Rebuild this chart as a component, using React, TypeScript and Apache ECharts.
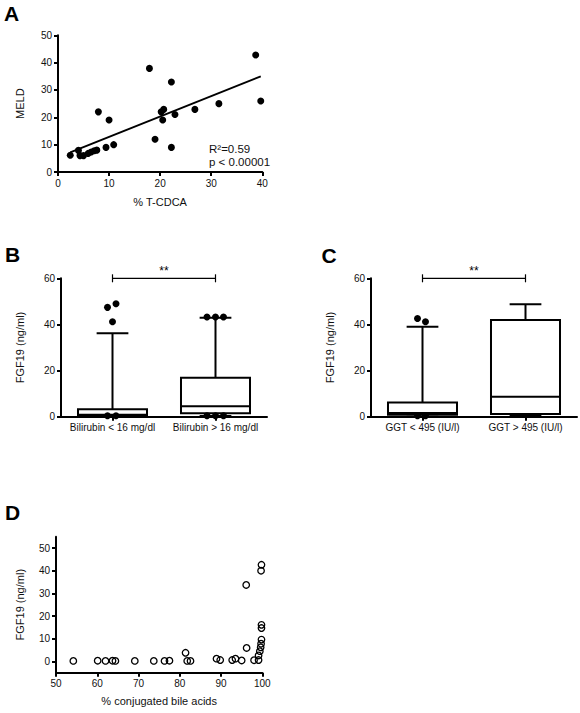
import React, { useEffect, useRef } from "react";
import * as echarts from "echarts";

const FONT = "'Liberation Sans', Arial, Helvetica, sans-serif";
const INK = "#111";

// ---------- Panel A: MELD vs % T-CDCA ----------
const tcdcaPct = [2.4, 4.0, 4.3, 5.0, 5.9, 6.5, 7.1, 7.6, 7.9, 9.4, 10.0, 10.9, 17.9, 19.0, 20.2, 20.7, 20.5, 22.2, 22.2, 22.9, 26.8, 31.5, 38.7, 39.7];
const meldScore = [6.1, 7.9, 6.0, 6.0, 6.8, 7.3, 7.8, 8.0, 22.0, 9.0, 19.0, 10.0, 37.9, 12.0, 22.0, 22.9, 19.0, 32.9, 9.0, 21.0, 22.9, 25.0, 42.8, 26.0];
const fitLineX = [2.4, 39.7];
const fitLineY = [7.2, 35.0];
const fitStats = ["R\u00B2=0.59", "p < 0.00001"];

// ---------- Panel B: FGF19 by bilirubin ----------
const bilirubinCats = ["Bilirubin < 16 mg/dl", "Bilirubin > 16 mg/dl"];
// [min, Q1, median, Q3, max]
const bilirubinBoxLow = [0, 0.5, 0.8, 3.2, 36.2];
const bilirubinBoxHigh = [0.3, 1.5, 4.5, 16.9, 42.9];
const bilirubinDotCat = [0, 0, 0, 0, 0, 1, 1, 1, 1, 1, 1];
const bilirubinDotVal = [47.4, 49.0, 41.2, 0.4, 0.4, 43.2, 43.2, 43.2, 0.4, 0.4, 0.4];
const bilirubinDotNudge = [-5, 3.5, 0, -5, 3.5, -8.5, 0, 8, -8.5, 0, 8];

// ---------- Panel C: FGF19 by GGT ----------
const ggtCats = ["GGT < 495 (IU/l)", "GGT > 495 (IU/l)"];
const ggtBoxLow = [0, 0.8, 1.6, 6.2, 39.0];
const ggtBoxHigh = [0.5, 1.2, 8.7, 41.9, 48.8];
const ggtDotCat = [0, 0, 0, 0];
const ggtDotVal = [42.6, 41.2, 0.4, 0.4];
const ggtDotNudge = [-5, 3, -5, 3];

const sigLabel = "**";

// ---------- Panel D: FGF19 vs % conjugated bile acids ----------
const conjPct = [54.2, 60.1, 62.0, 63.7, 64.4, 69.1, 73.7, 76.3, 77.5, 81.4, 81.8, 82.6, 88.9, 89.8, 92.7, 93.5, 95.0, 96.1, 96.2, 98.0, 99.1, 99.1, 99.4, 99.6, 99.7, 99.8, 99.8, 99.8, 99.7, 99.8];
const fgf19D = [0.2, 0.3, 0.2, 0.3, 0.2, 0.2, 0.2, 0.2, 0.3, 3.8, 0.2, 0.2, 1.2, 0.6, 0.6, 1.2, 0.4, 33.7, 5.9, 0.5, 0.6, 2.6, 4.5, 6.2, 7.8, 9.6, 14.7, 16.1, 40.0, 42.6];
const ticksD = [0, 10, 20, 30, 40, 50];

function axisBase(extra: any = {}) {
  return {
    axisLine: { show: true, onZero: false, lineStyle: { color: "#000", width: 2 } },
    axisTick: { show: true, length: 4, lineStyle: { color: "#000", width: 2 }, ...(extra.axisTick || {}) },
    axisLabel: { color: INK, fontSize: 10, fontFamily: FONT, margin: 6, ...(extra.axisLabel || {}) },
    splitLine: { show: false },
    nameTextStyle: { color: INK, fontSize: 11, fontFamily: FONT },
    nameLocation: "middle",
  };
}

function renderBox(params: any, api: any) {
  const idx = api.value(0);
  const band = api.size([1, 0])[0];
  const w = band * 0.67;
  const cap = w * 0.46;
  const cx = api.coord([idx, 0])[0];
  const y = (i: number) => api.coord([idx, api.value(i)])[1];
  const yMin = y(1), yQ1 = y(2), yMed = y(3), yQ3 = y(4), yMax = y(5);
  const st = { stroke: "#000", lineWidth: 2, fill: "none" };
  return {
    type: "group",
    children: [
      { type: "line", shape: { x1: cx, y1: yQ3, x2: cx, y2: yMax }, style: st },
      { type: "line", shape: { x1: cx - cap / 2, y1: yMax, x2: cx + cap / 2, y2: yMax }, style: st },
      { type: "line", shape: { x1: cx, y1: yQ1, x2: cx, y2: yMin }, style: st },
      { type: "line", shape: { x1: cx - cap / 2, y1: yMin, x2: cx + cap / 2, y2: yMin }, style: st },
      { type: "rect", shape: { x: cx - w / 2, y: yQ3, width: w, height: yQ1 - yQ3 }, style: { stroke: "#000", lineWidth: 2, fill: "#fff" } },
      { type: "line", shape: { x1: cx - w / 2, y1: yMed, x2: cx + w / 2, y2: yMed }, style: st },
    ],
  };
}

function renderBracket(params: any, api: any) {
  const yv = api.value(1);
  const p1 = api.coord([api.value(0), yv]);
  const p2 = api.coord([api.value(2), yv]);
  const st = { stroke: "#000", lineWidth: 1.2 };
  return {
    type: "group",
    children: [
      { type: "line", shape: { x1: p1[0], y1: p1[1], x2: p2[0], y2: p2[1] }, style: st },
      { type: "line", shape: { x1: p1[0], y1: p1[1] - 4, x2: p1[0], y2: p1[1] + 4 }, style: st },
      { type: "line", shape: { x1: p2[0], y1: p2[1] - 4, x2: p2[0], y2: p2[1] + 4 }, style: st },
      {
        type: "text",
        x: (p1[0] + p2[0]) / 2,
        y: p1[1] - 1,
        style: { text: sigLabel, fontSize: 12, fontFamily: FONT, fill: "#000", align: "center", verticalAlign: "bottom" },
      },
    ],
  };
}

function dots(cats: number[], vals: number[], nudges: number[]) {
  return cats.map((c, i) => ({ value: [c, vals[i]], symbolOffset: [nudges[i], 0] }));
}

export default function App() {
  const ref = useRef<HTMLDivElement>(null);
  useEffect(() => {
    if (!ref.current) return;
    const chart = echarts.init(ref.current, undefined, { renderer: "svg" });
    const solidDot = { color: "#000", opacity: 1 };
    const option: any = {
      animation: false,
      backgroundColor: "#fff",
      textStyle: { fontFamily: FONT },
      grid: [
        { left: 58, top: 35.3, width: 204.3, height: 136.7 },
        { left: 61, top: 278.3, width: 206, height: 138.4 },
        { left: 371, top: 278.3, width: 206, height: 138.4 },
        { left: 56, top: 536.7, width: 206.3, height: 136 },
      ],
      xAxis: [
        { ...axisBase(), type: "value", gridIndex: 0, min: 0, max: 40, interval: 10, name: "% T-CDCA", nameGap: 24 },
        {
          ...axisBase({ axisTick: { alignWithLabel: true }, axisLabel: { interval: 0 } }),
          type: "category", gridIndex: 1, data: bilirubinCats, boundaryGap: true,
        },
        {
          ...axisBase({ axisTick: { alignWithLabel: true }, axisLabel: { interval: 0 } }),
          type: "category", gridIndex: 2, data: ggtCats, boundaryGap: true,
        },
        { ...axisBase(), type: "value", gridIndex: 3, min: 50, max: 100, interval: 10, name: "% conjugated bile acids", nameGap: 23 },
      ],
      yAxis: [
        { ...axisBase(), type: "value", gridIndex: 0, min: 0, max: 50, interval: 10, name: "MELD", nameGap: 33 },
        { ...axisBase(), type: "value", gridIndex: 1, min: 0, max: 60, interval: 20, name: "FGF19 (ng/ml)", nameGap: 36 },
        { ...axisBase(), type: "value", gridIndex: 2, min: 0, max: 60, interval: 20, name: "FGF19 (ng/ml)", nameGap: 36 },
        {
          ...axisBase({ axisTick: { customValues: ticksD }, axisLabel: { customValues: ticksD } }),
          type: "value", gridIndex: 3, min: -5, max: 55, name: "FGF19 (ng/ml)", nameGap: 31,
        },
      ],
      series: [
        // A
        {
          type: "scatter", xAxisIndex: 0, yAxisIndex: 0, symbolSize: 7,
          itemStyle: solidDot,
          data: tcdcaPct.map((x, i) => [x, meldScore[i]]),
        },
        {
          type: "line", xAxisIndex: 0, yAxisIndex: 0, showSymbol: false, symbol: "none",
          lineStyle: { color: "#000", width: 2 },
          data: fitLineX.map((x, i) => [x, fitLineY[i]]),
        },
        // B
        {
          type: "custom", xAxisIndex: 1, yAxisIndex: 1, renderItem: renderBox,
          encode: { x: 0, y: [1, 2, 3, 4, 5] },
          data: [[0, ...bilirubinBoxLow], [1, ...bilirubinBoxHigh]],
        },
        {
          type: "scatter", xAxisIndex: 1, yAxisIndex: 1, symbolSize: 7, itemStyle: solidDot,
          data: dots(bilirubinDotCat, bilirubinDotVal, bilirubinDotNudge),
        },
        {
          type: "custom", xAxisIndex: 1, yAxisIndex: 1, renderItem: renderBracket,
          data: [[0, 60, 1]],
        },
        // C
        {
          type: "custom", xAxisIndex: 2, yAxisIndex: 2, renderItem: renderBox,
          encode: { x: 0, y: [1, 2, 3, 4, 5] },
          data: [[0, ...ggtBoxLow], [1, ...ggtBoxHigh]],
        },
        {
          type: "scatter", xAxisIndex: 2, yAxisIndex: 2, symbolSize: 7, itemStyle: solidDot,
          data: dots(ggtDotCat, ggtDotVal, ggtDotNudge),
        },
        {
          type: "custom", xAxisIndex: 2, yAxisIndex: 2, renderItem: renderBracket,
          data: [[0, 60, 1]],
        },
        // D
        {
          type: "scatter", xAxisIndex: 3, yAxisIndex: 3, symbol: "circle", symbolSize: 6.5,
          itemStyle: { color: "rgba(255,255,255,0)", borderColor: "#000", borderWidth: 1.3, opacity: 1 },
          data: conjPct.map((x, i) => [x, fgf19D[i]]),
        },
      ],
      graphic: [
        { type: "text", x: 4, y: 13, style: { text: "A", fontSize: 21, fontWeight: "bold", fontFamily: FONT, fill: "#000", verticalAlign: "middle" } },
        { type: "text", x: 5, y: 254.5, style: { text: "B", fontSize: 21, fontWeight: "bold", fontFamily: FONT, fill: "#000", verticalAlign: "middle" } },
        { type: "text", x: 321.5, y: 255.5, style: { text: "C", fontSize: 21, fontWeight: "bold", fontFamily: FONT, fill: "#000", verticalAlign: "middle" } },
        { type: "text", x: 5, y: 512.5, style: { text: "D", fontSize: 21, fontWeight: "bold", fontFamily: FONT, fill: "#000", verticalAlign: "middle" } },
        { type: "text", x: 209, y: 149.3, style: { text: fitStats[0], fontSize: 11.5, fontFamily: FONT, fill: INK, verticalAlign: "middle" } },
        { type: "text", x: 209, y: 162, style: { text: fitStats[1], fontSize: 11.5, fontFamily: FONT, fill: INK, verticalAlign: "middle" } },
      ],
    };
    chart.setOption(option);
    return () => chart.dispose();
  }, []);
  return (
    <div
      ref={ref}
      style={{ position: "absolute", left: 0, top: 0, width: 580, height: 713, background: "#fff" }}
    />
  );
}
